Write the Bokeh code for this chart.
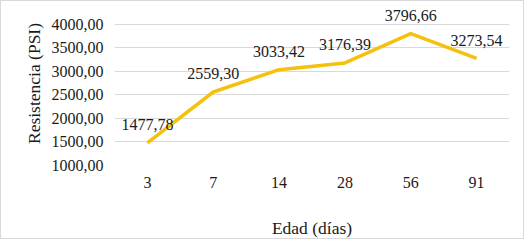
from bokeh.plotting import figure
from bokeh.models import FactorRange, Range1d, FixedTicker, CustomJSTickFormatter, ColumnDataSource, LabelSet
from bokeh.embed import file_html
from bokeh.resources import INLINE

dias = ["3", "7", "14", "28", "56", "91"]
resistencia = [1477.78, 2559.30, 3033.42, 3176.39, 3796.66, 3273.54]
y_ticks = [1000, 1500, 2000, 2500, 3000, 3500, 4000]

labels = [f"{v:.2f}".replace(".", ",") for v in resistencia]
src = ColumnDataSource(dict(x=dias, y=resistencia, t=labels))

FONT = "Liberation Serif"
TXT = "#1a1a1a"

# frame spans 167 px: 1000 at bottom, 4000 is 23 px below the frame top (0.048 px per unit)
p = figure(width=524, height=239, x_range=FactorRange(*dias), y_range=Range1d(1000, 4479),
           output_backend="svg", toolbar_location=None,
           min_border_left=113, min_border_right=16, min_border_top=0, min_border_bottom=72)
p.styles = {"border": "1px solid #d9d9d9"}
p.outline_line_color = None
p.background_fill_color = "white"
p.border_fill_color = "white"

p.line(x="x", y="y", source=src, line_color="#F4C10F", line_width=3.5)
lbl = LabelSet(x="x", y="y", text="t", source=src, text_font=FONT, text_font_size="16px",
               text_color=TXT, text_align="center", text_baseline="middle", y_offset=18,
               level="overlay")
p.add_layout(lbl)

p.xgrid.grid_line_color = None
p.ygrid.grid_line_color = "#d9d9d9"
p.ygrid.grid_line_width = 1
p.ygrid.ticker = FixedTicker(ticks=y_ticks)

p.yaxis.ticker = FixedTicker(ticks=y_ticks)
p.yaxis.formatter = CustomJSTickFormatter(code="return tick.toFixed(2).replace('.', ',');")

for ax in (p.xaxis[0], p.yaxis[0]):
    ax.axis_line_color = None
    ax.major_tick_line_color = None
    ax.minor_tick_line_color = None
    ax.major_tick_out = 0
    ax.major_tick_in = 0
    ax.minor_tick_out = 0
    ax.minor_tick_in = 0
    ax.major_label_text_font = FONT
    ax.major_label_text_font_size = "16px"
    ax.major_label_text_color = TXT
    ax.axis_label_text_font = FONT
    ax.axis_label_text_font_size = "17.5px"
    ax.axis_label_text_font_style = "normal"
    ax.axis_label_text_color = TXT

p.xaxis.axis_label = "Edad (días)"
p.yaxis.axis_label = "Resistencia (PSI)"
p.xaxis.major_label_standoff = 11
p.xaxis.axis_label_standoff = 27
p.yaxis.major_label_standoff = 11
p.yaxis.axis_label_standoff = 5

open("out.html", "w").write(file_html(p, INLINE))
